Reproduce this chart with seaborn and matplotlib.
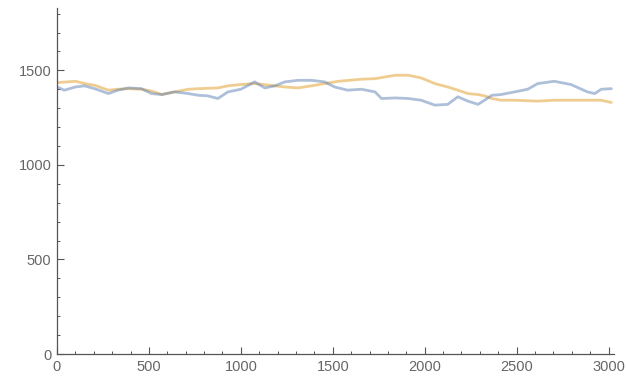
import numpy as np
import pandas as pd
import seaborn as sns
import matplotlib.pyplot as plt
from matplotlib.ticker import MultipleLocator

# blue series (jagged walk)
blue_x = [0, 40, 100, 150, 205, 280, 330, 390, 460, 515, 570, 640, 715, 770,
          820, 875, 930, 1000, 1075, 1130, 1185, 1240, 1310, 1385, 1455, 1510,
          1580, 1655, 1730, 1765, 1840, 1910, 1980, 2055, 2125, 2180, 2235,
          2290, 2325, 2365, 2415, 2490, 2560, 2615, 2705, 2795, 2885, 2925,
          2960, 3015]
blue_y = [1412, 1395, 1412, 1418, 1403, 1377, 1395, 1407, 1403, 1377, 1372,
          1386, 1377, 1368, 1365, 1351, 1386, 1400, 1439, 1407, 1418, 1439,
          1447, 1447, 1439, 1412, 1395, 1400, 1386, 1351, 1354, 1351, 1342,
          1316, 1320, 1360, 1337, 1320, 1342, 1368, 1372, 1386, 1400, 1430,
          1442, 1425, 1386, 1377, 1400, 1403]

# orange series (smoother)
orange_x = [0, 100, 150, 205, 280, 330, 390, 460, 515, 570, 640, 715, 770,
            875, 930, 1000, 1075, 1185, 1240, 1310, 1385, 1455, 1530, 1655,
            1730, 1840, 1910, 1980, 2055, 2125, 2180, 2235, 2290, 2325, 2365,
            2415, 2490, 2615, 2705, 2885, 2960, 3015]
orange_y = [1435, 1442, 1430, 1421, 1395, 1400, 1403, 1400, 1390, 1372, 1386,
            1400, 1403, 1407, 1418, 1425, 1430, 1418, 1412, 1407, 1418, 1430,
            1442, 1453, 1456, 1474, 1474, 1460, 1430, 1412, 1395, 1377, 1372,
            1365, 1351, 1342, 1342, 1337, 1342, 1342, 1342, 1330]

df_blue = pd.DataFrame({'x': blue_x, 'y': blue_y})
df_orange = pd.DataFrame({'x': orange_x, 'y': orange_y})

sns.set_style('ticks')
plt.rcParams['font.family'] = ['Liberation Sans', 'DejaVu Sans']
fig = plt.figure(figsize=(6.26, 3.77), dpi=100)
ax = fig.add_axes([0.091, 0.061, 0.890, 0.918])

blue = (0.368, 0.507, 0.710)
orange = (0.881, 0.611, 0.142)
sns.lineplot(data=df_orange, x='x', y='y', color=orange, alpha=0.5, lw=2, ax=ax)
sns.lineplot(data=df_blue, x='x', y='y', color=blue, alpha=0.5, lw=2, ax=ax)

ax.set_xlim(0, 3030)
ax.set_ylim(0, 1830)
ax.xaxis.set_major_locator(MultipleLocator(500))
ax.xaxis.set_minor_locator(MultipleLocator(100))
ax.yaxis.set_major_locator(MultipleLocator(500))
ax.yaxis.set_minor_locator(MultipleLocator(100))
ax.set_xlabel('')
ax.set_ylabel('')

grey = '#555555'
for s in ['top', 'right']:
    ax.spines[s].set_visible(False)
for s in ['left', 'bottom']:
    ax.spines[s].set_color(grey)
    ax.spines[s].set_linewidth(0.9)
ax.tick_params(which='major', direction='in', length=5, width=0.8, colors=grey,
               labelsize=10.5, labelcolor='#666666', pad=4)
ax.tick_params(which='minor', direction='in', length=2.5, width=0.7, colors=grey)

fig.savefig('out.png', dpi=100)
